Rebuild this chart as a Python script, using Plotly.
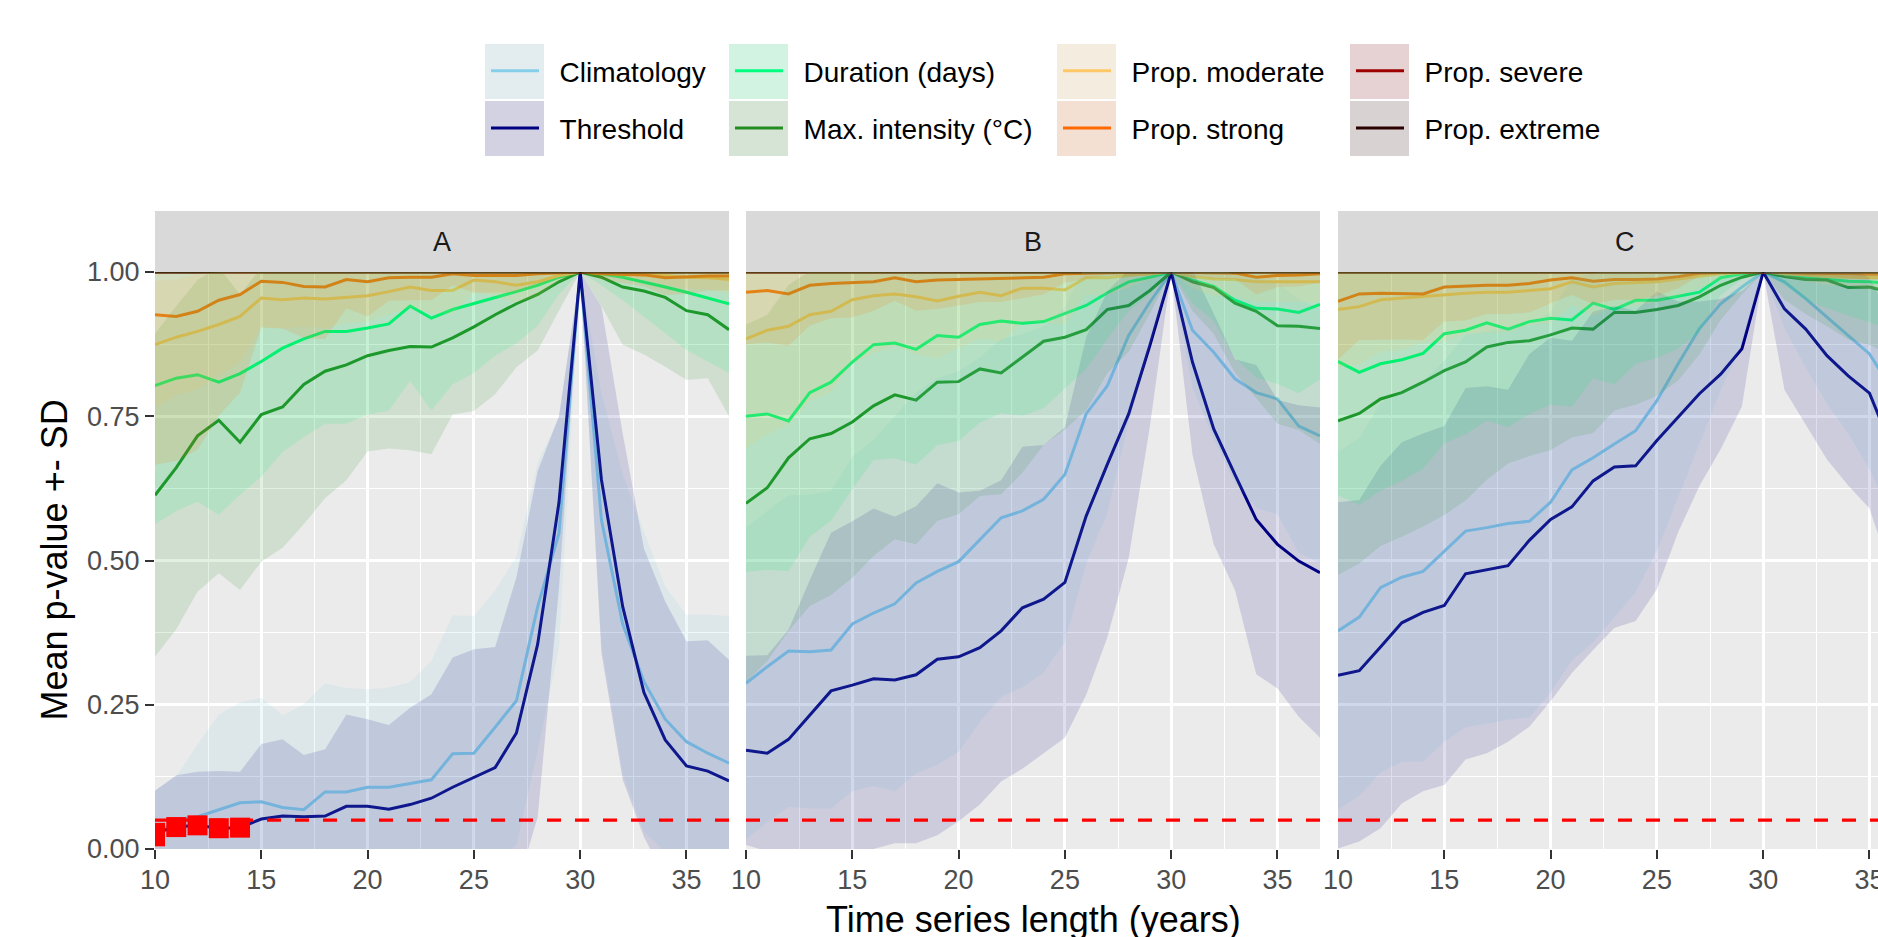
import plotly.graph_objects as go

# ---------------- data ----------------
years = [10, 11, 12, 13, 14, 15, 16, 17, 18, 19, 20, 21, 22, 23, 24, 25, 26, 27, 28, 29, 30, 31, 32, 33, 34, 35, 36, 37]
panels = ["A", "B", "C"]
series_names = ["Climatology", "Threshold", "Duration (days)", "Max. intensity (°C)",
                "Prop. moderate", "Prop. strong", "Prop. severe", "Prop. extreme"]
series_colors = ["#87CEEB", "#000080", "#00FF7F", "#228B22", "#FFC866", "#FF6900", "#9E0000", "#2D0000"]
p_threshold = 0.05
y_tick_vals = [0, 0.25, 0.5, 0.75, 1.0]
y_tick_text = ["0.00", "0.25", "0.50", "0.75", "1.00"]
x_tick_vals = [10, 15, 20, 25, 30, 35]

# Panel A
A_clim_mean = [0.022, 0.051, 0.056, 0.068, 0.080, 0.082, 0.072, 0.068, 0.099, 0.099, 0.107, 0.107, 0.113, 0.120, 0.165, 0.166, 0.211, 0.257, 0.420, 0.547, 1.0, 0.570, 0.390, 0.290, 0.225, 0.186, 0.166, 0.149]
A_clim_sd = [0.080, 0.075, 0.125, 0.165, 0.174, 0.180, 0.160, 0.183, 0.188, 0.180, 0.170, 0.173, 0.176, 0.206, 0.240, 0.238, 0.237, 0.250, 0.250, 0.200, 0.0, 0.220, 0.260, 0.260, 0.230, 0.220, 0.240, 0.255]
A_thr_mean = [0.028, 0.038, 0.041, 0.036, 0.037, 0.052, 0.057, 0.056, 0.057, 0.074, 0.074, 0.069, 0.077, 0.088, 0.107, 0.124, 0.141, 0.201, 0.355, 0.600, 1.0, 0.640, 0.420, 0.271, 0.189, 0.144, 0.135, 0.118]
A_thr_sd = [0.073, 0.090, 0.093, 0.099, 0.097, 0.130, 0.133, 0.107, 0.116, 0.159, 0.151, 0.146, 0.168, 0.180, 0.225, 0.222, 0.209, 0.270, 0.300, 0.150, 0.0, 0.300, 0.300, 0.250, 0.240, 0.216, 0.227, 0.210]
A_dur_mean = [0.803, 0.816, 0.822, 0.809, 0.824, 0.845, 0.868, 0.884, 0.897, 0.897, 0.903, 0.910, 0.941, 0.920, 0.935, 0.945, 0.955, 0.966, 0.977, 0.991, 1.0, 0.997, 0.991, 0.983, 0.974, 0.965, 0.955, 0.945]
A_dur_sd = [0.24, 0.23, 0.22, 0.23, 0.21, 0.20, 0.18, 0.17, 0.16, 0.16, 0.15, 0.15, 0.13, 0.16, 0.13, 0.12, 0.10, 0.09, 0.07, 0.03, 0.0, 0.02, 0.04, 0.06, 0.08, 0.10, 0.11, 0.12]
A_max_mean = [0.613, 0.661, 0.716, 0.743, 0.705, 0.753, 0.766, 0.805, 0.828, 0.839, 0.855, 0.864, 0.871, 0.870, 0.886, 0.905, 0.926, 0.945, 0.961, 0.983, 1.0, 0.991, 0.974, 0.967, 0.956, 0.933, 0.926, 0.900]
A_max_sd = [0.280, 0.280, 0.270, 0.265, 0.256, 0.255, 0.244, 0.242, 0.220, 0.200, 0.166, 0.170, 0.180, 0.186, 0.133, 0.146, 0.138, 0.110, 0.097, 0.050, 0.0, 0.050, 0.100, 0.110, 0.120, 0.120, 0.110, 0.150]
A_mod_mean = [0.874, 0.887, 0.897, 0.909, 0.923, 0.955, 0.952, 0.955, 0.953, 0.956, 0.959, 0.966, 0.974, 0.968, 0.968, 0.986, 0.983, 0.977, 0.983, 0.994, 1.0, 0.998, 0.997, 0.996, 0.994, 0.991, 0.990, 0.987]
A_mod_sd = [0.110, 0.100, 0.100, 0.090, 0.080, 0.050, 0.050, 0.050, 0.050, 0.045, 0.045, 0.040, 0.035, 0.040, 0.040, 0.020, 0.025, 0.030, 0.025, 0.010, 0.0, 0.005, 0.008, 0.010, 0.015, 0.020, 0.020, 0.025]
A_str_mean = [0.926, 0.923, 0.932, 0.951, 0.961, 0.984, 0.982, 0.975, 0.974, 0.987, 0.983, 0.990, 0.991, 0.991, 0.997, 0.994, 0.994, 0.994, 0.997, 0.998, 1.0, 0.997, 0.996, 0.995, 0.990, 0.992, 0.993, 0.993]
A_str_sd = [0.26, 0.25, 0.24, 0.20, 0.17, 0.08, 0.08, 0.09, 0.09, 0.05, 0.06, 0.04, 0.04, 0.04, 0.02, 0.03, 0.03, 0.03, 0.02, 0.01, 0.0, 0.01, 0.015, 0.02, 0.03, 0.03, 0.025, 0.025]

# Panel B
B_clim_mean = [0.287, 0.316, 0.343, 0.342, 0.345, 0.390, 0.409, 0.425, 0.461, 0.481, 0.498, 0.536, 0.574, 0.586, 0.606, 0.649, 0.754, 0.803, 0.890, 0.948, 1.0, 0.899, 0.861, 0.815, 0.791, 0.780, 0.733, 0.716]
B_clim_sd = [0.270, 0.270, 0.270, 0.272, 0.275, 0.290, 0.300, 0.325, 0.330, 0.335, 0.330, 0.316, 0.310, 0.306, 0.300, 0.290, 0.260, 0.220, 0.150, 0.080, 0.0, 0.100, 0.150, 0.180, 0.200, 0.200, 0.220, 0.220]
B_thr_mean = [0.171, 0.166, 0.190, 0.233, 0.274, 0.284, 0.295, 0.293, 0.302, 0.329, 0.333, 0.349, 0.378, 0.418, 0.433, 0.462, 0.577, 0.667, 0.754, 0.873, 1.0, 0.844, 0.728, 0.649, 0.571, 0.528, 0.499, 0.479]
B_thr_sd = [0.164, 0.170, 0.190, 0.233, 0.274, 0.284, 0.295, 0.283, 0.292, 0.305, 0.285, 0.272, 0.261, 0.279, 0.267, 0.269, 0.310, 0.300, 0.250, 0.140, 0.0, 0.160, 0.200, 0.200, 0.268, 0.250, 0.270, 0.286]
B_dur_mean = [0.750, 0.754, 0.742, 0.791, 0.809, 0.844, 0.874, 0.877, 0.866, 0.890, 0.887, 0.909, 0.915, 0.911, 0.914, 0.928, 0.942, 0.964, 0.983, 0.991, 1.0, 0.986, 0.975, 0.951, 0.937, 0.936, 0.930, 0.944]
B_dur_sd = [0.27, 0.27, 0.26, 0.25, 0.24, 0.22, 0.20, 0.20, 0.20, 0.19, 0.18, 0.17, 0.16, 0.16, 0.15, 0.13, 0.11, 0.08, 0.05, 0.03, 0.0, 0.04, 0.06, 0.10, 0.12, 0.13, 0.14, 0.13]
B_max_mean = [0.599, 0.626, 0.678, 0.711, 0.720, 0.740, 0.768, 0.787, 0.778, 0.809, 0.810, 0.832, 0.825, 0.852, 0.880, 0.887, 0.900, 0.935, 0.942, 0.968, 1.0, 0.983, 0.973, 0.946, 0.932, 0.907, 0.906, 0.902]
B_max_sd = [0.31, 0.30, 0.30, 0.29, 0.28, 0.27, 0.26, 0.25, 0.25, 0.24, 0.23, 0.22, 0.21, 0.20, 0.18, 0.16, 0.14, 0.11, 0.08, 0.04, 0.0, 0.05, 0.08, 0.12, 0.15, 0.17, 0.18, 0.20]
B_mod_mean = [0.884, 0.899, 0.906, 0.926, 0.932, 0.952, 0.959, 0.962, 0.957, 0.950, 0.958, 0.965, 0.959, 0.972, 0.972, 0.969, 0.990, 0.990, 0.994, 0.997, 1.0, 0.992, 0.988, 0.987, 0.983, 0.983, 0.983, 0.983]
B_mod_sd = [0.19, 0.18, 0.17, 0.15, 0.14, 0.11, 0.10, 0.09, 0.10, 0.10, 0.09, 0.08, 0.08, 0.06, 0.06, 0.06, 0.03, 0.03, 0.02, 0.01, 0.0, 0.02, 0.03, 0.03, 0.035, 0.035, 0.035, 0.035]
B_str_mean = [0.965, 0.968, 0.962, 0.977, 0.980, 0.981, 0.983, 0.990, 0.983, 0.986, 0.987, 0.988, 0.988, 0.990, 0.991, 0.997, 0.998, 0.999, 0.999, 0.999, 1.0, 0.999, 0.998, 0.998, 0.991, 0.994, 0.995, 0.997]
B_str_sd = [0.09, 0.09, 0.09, 0.07, 0.06, 0.06, 0.05, 0.04, 0.05, 0.05, 0.045, 0.04, 0.04, 0.035, 0.03, 0.015, 0.01, 0.005, 0.005, 0.005, 0.0, 0.005, 0.01, 0.01, 0.03, 0.02, 0.02, 0.015]

# Panel C
C_clim_mean = [0.378, 0.402, 0.453, 0.471, 0.481, 0.516, 0.551, 0.557, 0.564, 0.568, 0.601, 0.657, 0.678, 0.702, 0.725, 0.777, 0.841, 0.902, 0.945, 0.974, 1.0, 0.983, 0.954, 0.922, 0.890, 0.858, 0.800, 0.770]
C_clim_sd = [0.31, 0.31, 0.32, 0.32, 0.33, 0.33, 0.34, 0.34, 0.34, 0.34, 0.33, 0.33, 0.32, 0.30, 0.28, 0.26, 0.23, 0.20, 0.15, 0.10, 0.0, 0.08, 0.12, 0.15, 0.17, 0.20, 0.22, 0.24]
C_thr_mean = [0.301, 0.309, 0.350, 0.392, 0.410, 0.422, 0.477, 0.484, 0.491, 0.535, 0.571, 0.593, 0.638, 0.662, 0.664, 0.708, 0.749, 0.789, 0.823, 0.867, 1.0, 0.936, 0.901, 0.855, 0.820, 0.790, 0.700, 0.660]
C_thr_sd = [0.300, 0.296, 0.314, 0.313, 0.310, 0.311, 0.322, 0.318, 0.305, 0.323, 0.315, 0.288, 0.293, 0.279, 0.269, 0.258, 0.200, 0.160, 0.130, 0.100, 0.0, 0.140, 0.165, 0.180, 0.190, 0.200, 0.220, 0.230]
C_dur_mean = [0.845, 0.826, 0.841, 0.848, 0.859, 0.893, 0.899, 0.912, 0.901, 0.914, 0.920, 0.917, 0.946, 0.935, 0.951, 0.951, 0.958, 0.965, 0.990, 0.997, 1.0, 0.997, 0.991, 0.988, 0.984, 0.983, 0.980, 0.978]
C_dur_sd = [0.232, 0.23, 0.22, 0.21, 0.20, 0.19, 0.18, 0.17, 0.17, 0.16, 0.15, 0.15, 0.13, 0.13, 0.11, 0.10, 0.09, 0.07, 0.03, 0.01, 0.0, 0.02, 0.04, 0.05, 0.06, 0.07, 0.08, 0.08]
C_max_mean = [0.742, 0.755, 0.780, 0.791, 0.809, 0.829, 0.844, 0.870, 0.878, 0.881, 0.891, 0.903, 0.901, 0.930, 0.930, 0.935, 0.942, 0.957, 0.977, 0.991, 1.0, 0.992, 0.987, 0.986, 0.973, 0.974, 0.965, 0.960]
C_max_sd = [0.267, 0.26, 0.255, 0.25, 0.25, 0.25, 0.24, 0.23, 0.21, 0.20, 0.20, 0.19, 0.18, 0.17, 0.16, 0.15, 0.13, 0.10, 0.06, 0.03, 0.0, 0.04, 0.06, 0.08, 0.09, 0.10, 0.11, 0.11]
C_mod_mean = [0.935, 0.940, 0.952, 0.955, 0.958, 0.961, 0.963, 0.965, 0.965, 0.968, 0.971, 0.983, 0.974, 0.980, 0.981, 0.983, 0.988, 0.992, 0.997, 0.999, 1.0, 0.997, 0.994, 0.992, 0.991, 0.990, 0.990, 0.990]
C_mod_sd = [0.10, 0.10, 0.09, 0.09, 0.08, 0.08, 0.07, 0.07, 0.07, 0.06, 0.06, 0.04, 0.05, 0.04, 0.04, 0.035, 0.03, 0.02, 0.01, 0.005, 0.0, 0.005, 0.01, 0.015, 0.015, 0.02, 0.02, 0.02]
C_str_mean = [0.949, 0.962, 0.963, 0.963, 0.962, 0.974, 0.976, 0.977, 0.977, 0.980, 0.986, 0.990, 0.984, 0.987, 0.987, 0.988, 0.992, 0.998, 0.999, 0.999, 1.0, 0.999, 0.998, 0.998, 0.997, 0.996, 0.996, 0.996]
C_str_sd = [0.10, 0.08, 0.08, 0.08, 0.08, 0.06, 0.06, 0.05, 0.05, 0.05, 0.04, 0.03, 0.04, 0.035, 0.035, 0.03, 0.02, 0.005, 0.003, 0.003, 0.0, 0.003, 0.005, 0.005, 0.008, 0.01, 0.01, 0.01]

# Prop. severe / extreme (identical in all panels)
sev_mean = [1.0, 1.0, 1.0, 1.0, 1.0, 1.0, 1.0, 1.0, 1.0, 1.0, 1.0, 1.0, 1.0, 1.0, 1.0, 1.0, 1.0, 1.0, 1.0, 1.0, 1.0, 1.0, 1.0, 1.0, 1.0, 1.0, 1.0, 1.0]
sev_sd = [0.0, 0.0, 0.0, 0.0, 0.0, 0.0, 0.0, 0.0, 0.0, 0.0, 0.0, 0.0, 0.0, 0.0, 0.0, 0.0, 0.0, 0.0, 0.0, 0.0, 0.0, 0.0, 0.0, 0.0, 0.0, 0.0, 0.0, 0.0]
ext_mean = [1.0, 1.0, 1.0, 1.0, 1.0, 1.0, 1.0, 1.0, 1.0, 1.0, 1.0, 1.0, 1.0, 1.0, 1.0, 1.0, 1.0, 1.0, 1.0, 1.0, 1.0, 1.0, 1.0, 1.0, 1.0, 1.0, 1.0, 1.0]
ext_sd = [0.0, 0.0, 0.0, 0.0, 0.0, 0.0, 0.0, 0.0, 0.0, 0.0, 0.0, 0.0, 0.0, 0.0, 0.0, 0.0, 0.0, 0.0, 0.0, 0.0, 0.0, 0.0, 0.0, 0.0, 0.0, 0.0, 0.0, 0.0]

panel_data = {
    "A": [(A_clim_mean, A_clim_sd), (A_thr_mean, A_thr_sd), (A_dur_mean, A_dur_sd), (A_max_mean, A_max_sd),
          (A_mod_mean, A_mod_sd), (A_str_mean, A_str_sd), (sev_mean, sev_sd), (ext_mean, ext_sd)],
    "B": [(B_clim_mean, B_clim_sd), (B_thr_mean, B_thr_sd), (B_dur_mean, B_dur_sd), (B_max_mean, B_max_sd),
          (B_mod_mean, B_mod_sd), (B_str_mean, B_str_sd), (sev_mean, sev_sd), (ext_mean, ext_sd)],
    "C": [(C_clim_mean, C_clim_sd), (C_thr_mean, C_thr_sd), (C_dur_mean, C_dur_sd), (C_max_mean, C_max_sd),
          (C_mod_mean, C_mod_sd), (C_str_mean, C_str_sd), (sev_mean, sev_sd), (ext_mean, ext_sd)],
}

# ---------------- styling ----------------
W, H = 1878, 937
ML, MT, MB = 155, 272, 88
PW, PH = W - ML, H - MT - MB
FONT = "Liberation Sans, Arial, Helvetica, sans-serif"
ribbon_alpha = 0.13
line_w = 3.0
legend_ids = ["legend", "legend", "legend2", "legend2", "legend3", "legend3", "legend4", "legend4"]
legend_pad = "\u00a0\u00a0"

def px_x(p):
    return (p - ML) / PW

def px_y(p):
    return (H - MB - p) / PH

def rgba(hex_color, a):
    h = hex_color.lstrip("#")
    return "rgba(%d,%d,%d,%s)" % (int(h[0:2], 16), int(h[2:4], 16), int(h[4:6], 16), a)

x_domains = [[px_x(155), px_x(729)], [px_x(746), px_x(1320)], [px_x(1338), 1.0]]
unit_px = (729 - 155) / 27.0
x_ranges = [[10, 37], [10, 37], [10, 10 + (W - 1338) / unit_px]]

fig = go.Figure()

for pi, p in enumerate(panels):
    xa = "x" if pi == 0 else "x%d" % (pi + 1)
    ya = "y" if pi == 0 else "y%d" % (pi + 1)
    data = panel_data[p]
    for si, (m, s) in enumerate(data):
        fig.add_trace(go.Scatter(
            x=years, y=m, mode="lines", name=legend_pad + series_names[si],
            line=dict(color=series_colors[si], width=line_w),
            showlegend=(pi == 0), legend=legend_ids[si], legendgroup=series_names[si],
            xaxis=xa, yaxis=ya, hoverinfo="skip"))
    for si, (m, s) in enumerate(data):
        lo = [mm - ss for mm, ss in zip(m, s)]
        hi = [mm + ss for mm, ss in zip(m, s)]
        fig.add_trace(go.Scatter(
            x=years + years[::-1], y=hi + lo[::-1], mode="lines", fill="toself",
            fillcolor=rgba(series_colors[si], ribbon_alpha), line=dict(width=0),
            showlegend=False, xaxis=xa, yaxis=ya, hoverinfo="skip"))
    fig.add_trace(go.Scatter(
        x=[years[0], years[-1]], y=[p_threshold, p_threshold], mode="lines",
        line=dict(color="#FF0000", width=3.2, dash="14px,14px"),
        showlegend=False, xaxis=xa, yaxis=ya, hoverinfo="skip"))
    sx, sy = [], []
    for si in (0, 1):
        for xv, yv in zip(years, data[si][0]):
            if yv < p_threshold:
                sx.append(xv)
                sy.append(yv)
    if sx:
        fig.add_trace(go.Scatter(
            x=sx, y=sy, mode="markers", marker=dict(symbol="square", size=20, color="#FF0000", line=dict(width=0)),
            showlegend=False, xaxis=xa, yaxis=ya, hoverinfo="skip"))

axis_common = dict(
    showgrid=True, gridcolor="white", gridwidth=2.6, zeroline=False, showline=False,
)
layout = dict(
    width=W, height=H, autosize=False,
    margin=dict(l=ML, r=0, t=MT, b=MB, autoexpand=False, pad=0),
    paper_bgcolor="white", plot_bgcolor="#EBEBEB",
    font=dict(family=FONT, color="black"),
    showlegend=True,
)
for pi in range(3):
    key = "xaxis" if pi == 0 else "xaxis%d" % (pi + 1)
    layout[key] = dict(
        axis_common, domain=x_domains[pi], range=x_ranges[pi], anchor="y" if pi == 0 else "y%d" % (pi + 1),
        tickmode="array", tickvals=x_tick_vals, ticktext=[str(v) for v in x_tick_vals],
        ticks="outside", ticklen=9, tickwidth=2.2, tickcolor="#333333", ticklabelstandoff=-2,
        ticklabeloverflow="allow",
        tickfont=dict(family=FONT, size=27, color="#4D4D4D"),
        minor=dict(dtick=2.5, tick0=10, showgrid=True, gridcolor="white", gridwidth=1.3, ticks=""),
    )
    ykey = "yaxis" if pi == 0 else "yaxis%d" % (pi + 1)
    ydict = dict(
        axis_common, domain=[0, 1], range=[0, 1], anchor="x" if pi == 0 else "x%d" % (pi + 1),
        tickmode="array", tickvals=y_tick_vals, ticktext=y_tick_text,
        minor=dict(dtick=0.125, tick0=0, showgrid=True, gridcolor="white", gridwidth=1.3, ticks=""),
    )
    if pi == 0:
        ydict.update(ticks="outside", ticklen=9, tickwidth=2.2, tickcolor="#333333",
                     tickfont=dict(family=FONT, size=27, color="#4D4D4D"))
    else:
        ydict.update(showticklabels=False, ticks="", matches="y")
    layout[ykey] = ydict

# legends: four vertical columns
legend_cols_left = [486, 730, 1058, 1351]
for li, lid in enumerate(["legend", "legend2", "legend3", "legend4"]):
    layout[lid] = dict(
        x=px_x(legend_cols_left[li]), y=px_y(46), xanchor="left", yanchor="top",
        orientation="v", bgcolor="rgba(0,0,0,0)", borderwidth=0,
        font=dict(family=FONT, size=28, color="black"),
        itemwidth=48, tracegroupgap=18, traceorder="grouped",
    )

shapes = []
annotations = []
strip_h = (272 - 211) / PH
for pi, p in enumerate(panels):
    xd = "x domain" if pi == 0 else "x%d domain" % (pi + 1)
    yd = "y domain" if pi == 0 else "y%d domain" % (pi + 1)
    shapes.append(dict(type="rect", xref=xd, yref=yd, x0=0, x1=1, y0=1, y1=1 + strip_h,
                       fillcolor="#D9D9D9", line=dict(width=0), layer="below"))
strip_centers = [(155 + 729) / 2, (746 + 1320) / 2, 1338 + (729 - 155) / 2]
for pi, p in enumerate(panels):
    annotations.append(dict(text=p, xref="paper", yref="paper", x=px_x(strip_centers[pi]), y=1 + strip_h / 2,
                            xanchor="center", yanchor="middle", showarrow=False,
                            font=dict(family=FONT, size=27, color="#1A1A1A")))

# legend key backgrounds
key_lefts = [485, 729, 1057, 1350]
key_rows = [(44, 99), (101, 156)]
for si in range(8):
    col, row = si // 2, si % 2
    x0, x1 = px_x(key_lefts[col]), px_x(key_lefts[col] + 59)
    y0, y1 = px_y(key_rows[row][1]), px_y(key_rows[row][0])
    shapes.append(dict(type="rect", xref="paper", yref="paper", x0=x0, x1=x1, y0=y0, y1=y1,
                       fillcolor="#F2F2F2", line=dict(width=0), layer="above"))
    shapes.append(dict(type="rect", xref="paper", yref="paper", x0=x0, x1=x1, y0=y0, y1=y1,
                       fillcolor=rgba(series_colors[si], ribbon_alpha), line=dict(width=0), layer="above"))

annotations.append(dict(text="Time series length (years)", xref="paper", yref="paper",
                        x=px_x((155 + 1338 + 574) / 2), y=px_y(919), xanchor="center", yanchor="middle",
                        showarrow=False, font=dict(family=FONT, size=36, color="black")))
annotations.append(dict(text="Mean p-value +- SD", xref="paper", yref="paper",
                        x=px_x(54), y=0.5, xanchor="center", yanchor="middle", textangle=-90,
                        showarrow=False, font=dict(family=FONT, size=36, color="black")))

layout["shapes"] = shapes
layout["annotations"] = annotations
fig.update_layout(**layout)

fig.write_html("out.html", config={"displayModeBar": False},
               post_script="document.body.style.margin='0';document.body.style.overflow='hidden';")
